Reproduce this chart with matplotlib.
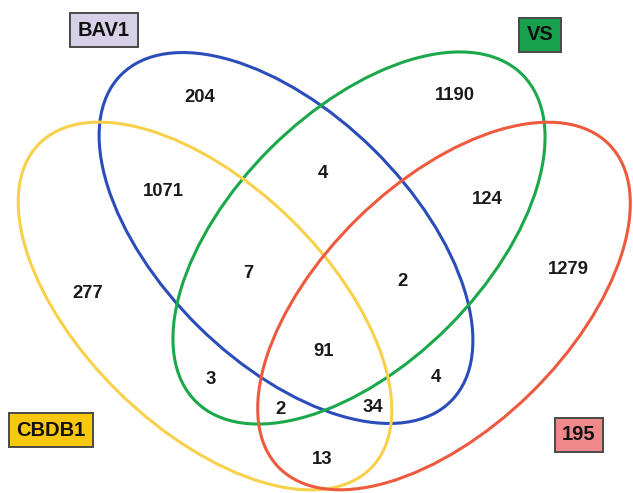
import matplotlib
matplotlib.use("Agg")
import matplotlib.pyplot as plt
from matplotlib.patches import Ellipse

# Data
set_names = ["BAV1", "VS", "CBDB1", "195"]
region_counts = [204, 1190, 1071, 4, 124, 277, 7, 2, 1279, 91, 3, 4, 2, 34, 13]

# Layout (pixel coordinates, y downward)
region_pos = [(200, 98), (455, 96), (163, 191), (323, 173), (487, 200),
              (88, 293), (248, 273), (402, 282), (568, 269), (324, 351),
              (211, 379), (436, 377), (280, 409), (373, 408), (322, 459)]

ellipses = [  # center, width, height, angle, color
    ((286, 238), 464, 249, 44.6, "#2A4DBA"),    # BAV1 blue
    ((359, 238), 462, 252, -45, "#1BA84A"),     # VS green
    ((205, 306), 464, 244, 44.2, "#F8D04A"),    # CBDB1 yellow
    ((444, 306), 462, 246, -44.3, "#EE5A3E"),   # 195 red
]
label_pos = [(104, 30), (540, 35), (51, 430), (579, 435)]
label_face = ["#D7D1E7", "#18A04F", "#F9C80E", "#F0898C"]

plt.rcParams["font.family"] = ["Liberation Sans", "DejaVu Sans"]

fig = plt.figure(figsize=(6.33, 4.93), dpi=100)
ax = fig.add_axes([0, 0, 1, 1])
ax.set_xlim(0, 633)
ax.set_ylim(493, 0)
ax.set_aspect("equal")
ax.axis("off")

for (c, w, h, a, col) in ellipses:
    ax.add_patch(Ellipse(c, w, h, angle=a, fill=False, edgecolor=col, lw=2.2))

for (x, y), v in zip(region_pos, region_counts):
    ax.text(x, y, str(v), ha="center", va="center", fontsize=13.3,
            fontweight="bold", color="#1a1a1a")

for (x, y), name, fc in zip(label_pos, set_names, label_face):
    ax.text(x, y, name, ha="center", va="center", fontsize=14.5,
            fontweight="bold", color="#111111",
            bbox=dict(boxstyle="square,pad=0.38", facecolor=fc,
                      edgecolor="#4a4a4a", lw=1.4))

fig.savefig("out.png", dpi=100)
